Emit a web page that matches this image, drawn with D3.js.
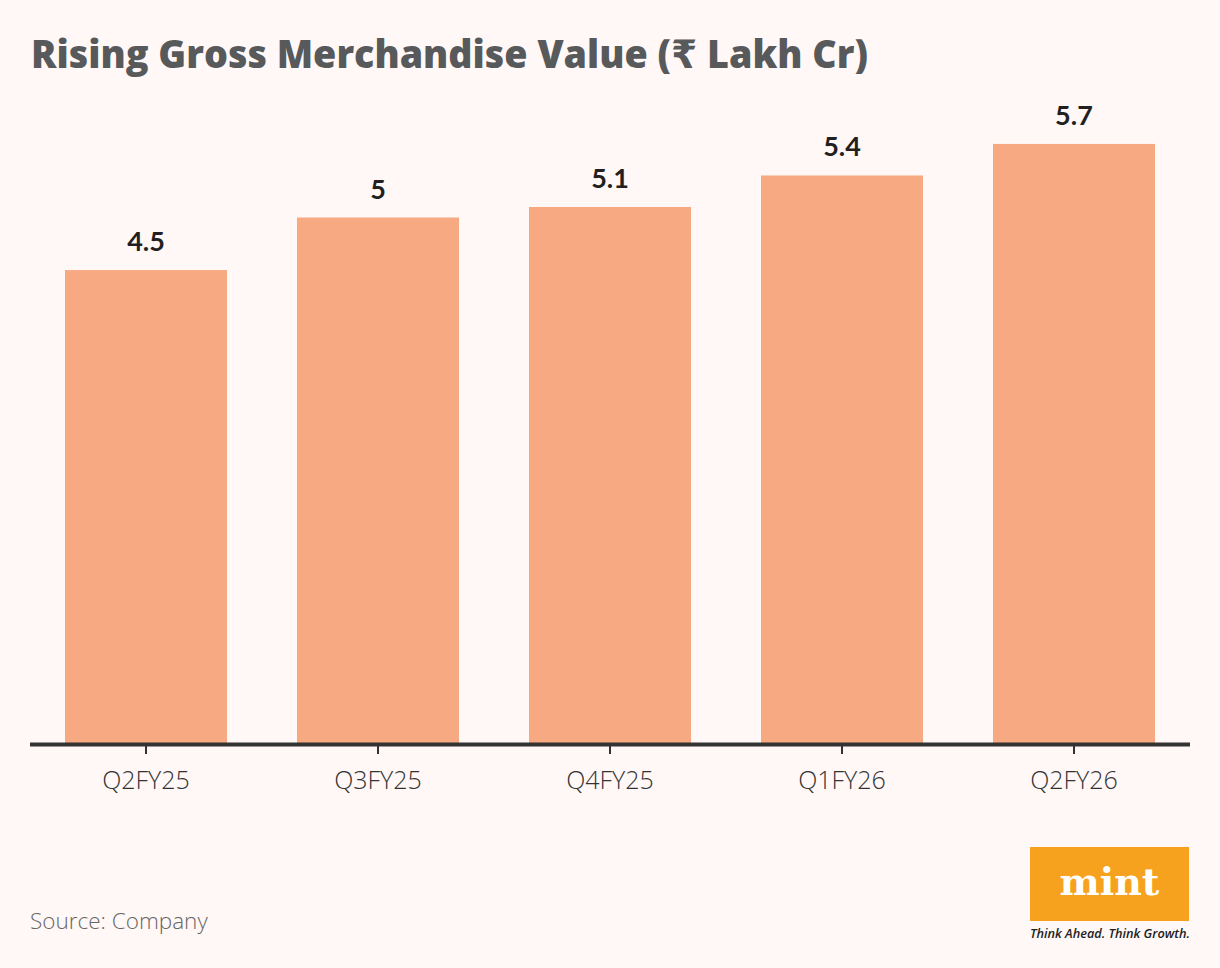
<!DOCTYPE html>
<html>
<head>
<meta charset="utf-8">
<script src="https://cdn.jsdelivr.net/npm/d3@7"></script>
<style>
  html, body { margin: 0; padding: 0; background: #fff8f7; }
  svg { display: block; }
</style>
</head>
<body>
<div id="chart"></div>
<script>
const quarters = ["Q2FY25", "Q3FY25", "Q4FY25", "Q1FY26", "Q2FY26"];
const gmv = [4.5, 5, 5.1, 5.4, 5.7];
const valueLabels = ["4.5", "5", "5.1", "5.4", "5.7"];

const W = 1220, H = 968;
const baseY = 743;

const svg = d3.select("#chart").append("svg")
  .attr("width", W)
  .attr("height", H);

svg.append("rect")
  .attr("width", W).attr("height", H)
  .attr("fill", "#fff8f7");

// title
svg.append("text")
  .attr("x", 31)
  .attr("y", 68)
  .attr("fill", "#58595b")
  .style("font-family", "'Open Sans', 'DejaVu Sans', sans-serif")
  .style("font-weight", "800")
  .style("font-size", "39px")
  .attr("textLength", 837)
  .attr("lengthAdjust", "spacingAndGlyphs")
  .text("Rising Gross Merchandise Value (₹ Lakh Cr)");

const x = d3.scaleBand()
  .domain(quarters)
  .range([30, 1190])
  .paddingInner(0.3017)
  .paddingOuter(0.1509);

const y = d3.scaleLinear()
  .domain([0, 6])
  .range([baseY, baseY - 6 * 105.1]);

// bars
svg.selectAll("rect.bar")
  .data(gmv)
  .join("rect")
  .attr("class", "bar")
  .attr("x", (d, i) => x(quarters[i]))
  .attr("y", d => y(d))
  .attr("width", x.bandwidth())
  .attr("height", d => baseY - y(d))
  .attr("fill", "#f7a982");

// value labels
svg.selectAll("text.val")
  .data(gmv)
  .join("text")
  .attr("class", "val")
  .attr("x", (d, i) => x(quarters[i]) + x.bandwidth() / 2)
  .attr("y", d => y(d) - 19)
  .attr("text-anchor", "middle")
  .attr("fill", "#231f20")
  .style("font-family", "Lato, 'Open Sans', sans-serif")
  .style("font-weight", "bold")
  .style("font-size", "27px")
  .text((d, i) => valueLabels[i]);

// x axis
const axis = svg.append("g")
  .attr("transform", "translate(0," + baseY + ")")
  .call(d3.axisBottom(x).tickSize(11).tickPadding(17));

axis.select(".domain")
  .attr("d", "M30,1.5H1190")
  .attr("stroke", "#333")
  .attr("stroke-width", 4);

axis.selectAll(".tick line")
  .attr("stroke", "#333")
  .attr("stroke-width", 2);

axis.selectAll(".tick text")
  .attr("fill", "#333")
  .style("font-family", "'Open Sans', sans-serif")
  .style("font-weight", "300")
  .style("font-size", "25px");

// source
svg.append("text")
  .attr("x", 30)
  .attr("y", 929)
  .attr("fill", "#666")
  .style("font-family", "'Open Sans', sans-serif")
  .style("font-weight", "300")
  .style("font-size", "22.5px")
  .text("Source: Company");

// mint logo
const logo = svg.append("g");
logo.append("rect")
  .attr("x", 1030).attr("y", 847)
  .attr("width", 159).attr("height", 74)
  .attr("fill", "#f7a21f");
logo.append("text")
  .attr("x", 1109.5).attr("y", 895)
  .attr("text-anchor", "middle")
  .attr("fill", "#fff")
  .style("font-family", "'DejaVu Serif', 'Liberation Serif', serif")
  .style("font-weight", "bold")
  .style("font-size", "38px")
  .text("mint");
logo.append("text")
  .attr("x", 1030).attr("y", 938)
  .attr("fill", "#222")
  .style("font-family", "'Open Sans', sans-serif")
  .style("font-weight", "600")
  .style("font-style", "italic")
  .style("font-size", "13px")
  .attr("textLength", 160)
  .attr("lengthAdjust", "spacingAndGlyphs")
  .text("Think Ahead. Think Growth.");
</script>
</body>
</html>
